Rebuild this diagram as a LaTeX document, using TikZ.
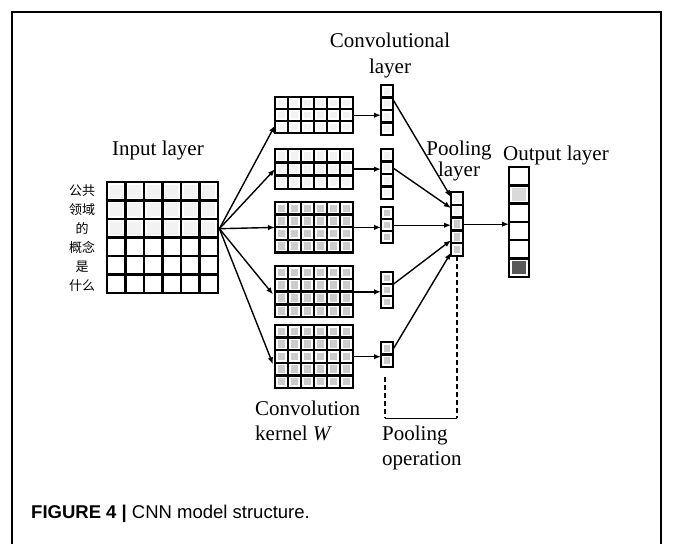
\documentclass[tikz,border=0pt]{standalone}
\usepackage{fontspec}
\setmainfont{Liberation Serif}
\setsansfont{Liberation Sans}
\newfontfamily\cjkfont{Noto Sans CJK SC}
\usetikzlibrary{arrows.meta,positioning,calc}

% one block of cells: name, x, y, columns, rows, cell width, cell height, row colours
\newcommand{\cellblock}[8]{%
  \foreach \rc [count=\row from 0] in {#8}
    \foreach \col in {1,...,#4}
      \fill[fill=\rc] ({#2+(\col-1)*#6+2.6},{#3+\row*#7+2.6}) rectangle ++({#6-5.2},{#7-5.2});
  \foreach \col in {0,...,#4}
    \draw[cellline] ({#2+\col*#6},#3) -- ++(0,{#5*#7});
  \foreach \row in {0,...,#5}
    \draw[cellline] (#2,{#3+\row*#7}) -- ++({#4*#6},0);
  \node[inner sep=0pt, minimum width={#4*#6}, minimum height={#5*#7}, anchor=north west] (#1) at (#2,#3) {};
}

\begin{document}
\begin{tikzpicture}[x=1pt,y=-1pt,
    cellline/.style={line width=2.4pt, line cap=rect},
    lbl/.style={font=\fontsize{21}{25}\selectfont, inner sep=0pt, align=center},
    conn/.style={-{Latex[length=7pt,width=5.5pt]}, line width=1.4pt},
    bracket/.style={line width=1.6pt}]
  \useasboundingbox (0,0) rectangle (673,544);
  \draw[line width=1.8pt] (12,544) -- (12,12) -- (661,12) -- (661,544);

  % input sentence and matrix
  \cellblock{input}{107}{182}{6}{6}{18.5}{18.5}{gray!10,gray!10,gray!10,white,white,white}
  \node[font=\cjkfont\fontsize{13}{19}\selectfont, align=center, inner sep=0pt] (sent) at (82,238)
    {公共\\领域\\的\\概念\\是\\什么};

  % kernels
  \cellblock{k1}{275}{97}{6}{3}{13}{12}{gray!10,gray!10,gray!10}
  \cellblock{k2}{275}{149}{6}{3}{13}{13.3}{gray!10,gray!10,gray!10}
  \cellblock{k3}{275}{202}{6}{4}{13}{12.6}{gray!40,gray!40,gray!40,gray!40}
  \cellblock{k4}{275}{266}{6}{4}{13}{12.8}{gray!40,gray!40,gray!40,gray!40}
  \cellblock{k5}{275}{325}{6}{5}{13}{12.6}{gray!40,gray!40,gray!40,gray!40,gray!40}

  % feature maps
  \cellblock{c1}{381}{85}{1}{4}{12}{12.5}{gray!10,gray!10,gray!10,gray!10}
  \cellblock{c2}{381}{149}{1}{4}{12}{12.5}{gray!10,gray!10,gray!10,gray!10}
  \cellblock{c3}{381}{207}{1}{3}{12}{12}{gray!40,gray!40,gray!40}
  \cellblock{c4}{381}{272}{1}{3}{12}{12}{gray!40,gray!40,gray!40}
  \cellblock{c5}{381}{342}{1}{2}{12}{12.5}{gray!40,gray!40}

  % pooling and output
  \cellblock{pool}{451}{192}{1}{5}{12}{12.8}{gray!10,gray!10,gray!40,gray!40,gray!40}
  \cellblock{out}{509}{167}{1}{6}{20}{18.3}{white,gray!30,white,white,white,black!65}

  % labels
  \node[lbl] (inlbl) at (158,150) {Input layer};
  \node[lbl, font=\fontsize{21}{26}\selectfont] (convlbl) at (390,55) {Convolutional\\layer};
  \node[lbl, font=\fontsize{21}{21}\selectfont] (poollbl) at (459,161) {Pooling\\layer};
  \node[lbl] (outlbl) at (556,155) {Output layer};
  \node[lbl, align=left, anchor=north west] (kernlbl) at (255,401) {Convolution\\kernel \textit{W}};
  \node[lbl, align=left, anchor=north west] (oplbl) at (382,426) {Pooling\\operation};

  % input to kernels
  \coordinate (fan) at ($(input.east)+(1,-9)$);
  \draw[conn] (fan) -- ($(k1.north west)!0.78!(k1.south west)$);
  \draw[conn] (fan) -- (k2.west);
  \draw[conn] (fan) -- (k3.west);
  \draw[conn] (fan) -- ($(k4.north west)!0.55!(k4.south west)+(-2,0)$);
  \draw[conn] (fan) -- ($(k5.north west)!0.62!(k5.south west)+(-2,0)$);

  % kernels to feature maps
  \foreach \i in {1,...,5}
    \draw[conn] (k\i.east) -- (k\i.east -| c\i.west);

  % feature maps to pooling
  \draw[conn] ($(c1.east)+(0,-10)$) -- ($(pool.north west)!0.08!(pool.south west)$);
  \draw[conn] ($(c2.east)+(0,-6)$) -- ($(pool.north west)!0.25!(pool.south west)$);
  \draw[conn] (c3.east) -- (c3.east -| pool.west);
  \draw[conn] ($(c4.east)+(0,-6)$) -- ($(pool.north west)!0.75!(pool.south west)$);
  \draw[conn] ($(c5.east)+(0,-6)$) -- ($(pool.north west)!0.94!(pool.south west)$);
  \draw[conn] (pool.east) -- (pool.east -| out.west);

  % pooling operation bracket
  \coordinate (opl) at ($(c5.south)+(-2,51)$);
  \coordinate (opr) at (pool.south |- opl);
  \draw[bracket, dash pattern=on 5pt off 3pt] ($(c5.south)+(-2,10)$) -- (opl);
  \draw[bracket, dash pattern=on 5pt off 3pt] (pool.south) -- (opr);
  \draw[bracket] (opl) -- (opr);

  \node[anchor=west, inner sep=0pt, font=\sffamily\fontsize{18.5}{18.5}\selectfont] (cap) at (31,514)
    {\textbf{FIGURE 4 |} CNN model structure.};
\end{tikzpicture}
\end{document}
